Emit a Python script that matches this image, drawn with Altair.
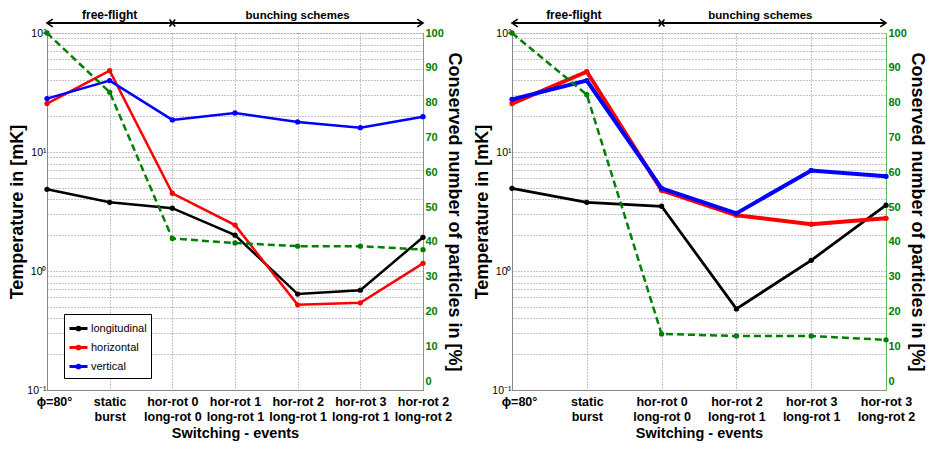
import altair as alt
import pandas as pd

FONT = "'Liberation Sans', Arial, sans-serif"

series_names = ["longitudinal", "horizontal", "vertical"]
series_colors = ["#000000", "#ff0000", "#0000ff"]
green = "#008000"

# ---- left panel data ----
events_left = ["ϕ=80°", "static|burst", "hor-rot 0|long-rot 0", "hor-rot 1|long-rot 1",
               "hor-rot 2|long-rot 1", "hor-rot 3|long-rot 1", "hor-rot 2|long-rot 2"]
long_left = [4.86, 3.78, 3.37, 2.0, 0.64, 0.69, 1.92]
hor_left = [25.5, 48.3, 4.5, 2.43, 0.52, 0.54, 1.16]
ver_left = [28.1, 39.8, 18.6, 21.3, 17.9, 16.0, 19.8]
cons_left = [100, 83, 41, 39.7, 38.8, 38.8, 37.8]

# ---- right panel data ----
events_right = ["ϕ=80°", "static|burst", "hor-rot 0|long-rot 0", "hor-rot 2|long-rot 1",
                "hor-rot 3|long-rot 1", "hor-rot 3|long-rot 2"]
long_right = [4.95, 3.78, 3.5, 0.48, 1.23, 3.57]
hor_right = [25.5, 47.3, 4.77, 2.94, 2.47, 2.77]
ver_right = [27.7, 39.8, 4.95, 3.05, 7.0, 6.25]
cons_right = [100, 82.3, 13.6, 13.0, 13.0, 11.9]

# annotation labels above the plots
ann_texts = ["free-flight", "bunching schemes"]
ann_sizes = [12, 11.5]
ann_anchor_left = [1, 4]
ann_shift_left = [0, 0]
ann_anchor_right = [1, 3]
ann_shift_right = [-13, 24]

log_ticks = [0.1, 0.2, 0.3, 0.4, 0.5, 0.6, 0.7, 0.8, 0.9,
             1, 2, 3, 4, 5, 6, 7, 8, 9,
             10, 20, 30, 40, 50, 60, 70, 80, 90, 100]
pct_ticks = [0, 10, 20, 30, 40, 50, 60, 70, 80, 90, 100]

log_label = ("datum.value == 100 ? '10²' : datum.value == 10 ? '10¹' : "
             "datum.value == 1 ? '10⁰' : datum.value == 0.1 ? '10⁻¹' : ''")


def panel(events, lon, hor, ver, cons, width, legend_x, legend_y, legend_font,
          legend_sym, line_ws, anchors, shifts):
    n = len(events)
    values = {"longitudinal": lon, "horizontal": hor, "vertical": ver}
    cons_df = pd.DataFrame({"event": events, "C": cons})
    ev_df = pd.DataFrame({"event": events})

    x_enc = alt.X(
        "event:N", sort=events,
        scale=alt.Scale(type="point", padding=0),
        axis=alt.Axis(
            title="Switching - events", labelExpr="split(datum.label, '|')",
            labelAngle=0, labelFont=FONT, labelFontSize=12.5, labelFontWeight="bold",
            labelLineHeight=15, labelPadding=5, labelColor="black",
            labelOffset={"condition": {"test": "datum.index == 0", "value": 7}, "value": 0},
            titleFont=FONT, titleFontSize=14.5, titleFontWeight="bold", titlePadding=4,
            grid=True, gridDash=[1, 2], gridColor="#888", ticks=False,
            domainColor="#888", labelOverlap=False,
        ),
    )
    y_temp = alt.Y("T:Q",
                   scale=alt.Scale(type="log", domain=[0.1, 100], nice=False),
                   axis=alt.Axis(
                       title="Temperature in [mK]", values=log_ticks, labelExpr=log_label,
                       labelFont=FONT, labelFontSize=10.5, labelColor="black",
                       labelPadding=1, labelOverlap=False,
                       titleFont=FONT, titleFontSize=18, titleFontWeight="bold",
                       titlePadding=0, titleColor="black",
                       grid=True, gridDash=[1, 2], gridColor="#888",
                       ticks=False, domainColor="#888",
                   ))
    color_enc = alt.Color("series:N", sort=series_names,
                          scale=alt.Scale(domain=series_names, range=series_colors),
                          legend=alt.Legend(
                              title=None, orient="none", legendX=legend_x, legendY=legend_y,
                              direction="vertical", fillColor="white", strokeColor="black",
                              padding=4, cornerRadius=0, symbolType=legend_sym[0],
                              symbolSize=legend_sym[1], symbolStrokeWidth=3,
                              labelFont=FONT, labelFontSize=legend_font,
                              labelColor="black", rowPadding=1, labelOffset=2,
                          ))

    temp_layers = []
    for s, w in zip(series_names, line_ws):
        df = pd.DataFrame({"event": events, "series": [s] * n, "T": values[s]})
        temp_layers.append(alt.Chart(df).mark_line(
            strokeWidth=w, point=alt.OverlayMarkDef(filled=True, size=28),
        ).encode(x=x_enc, y=y_temp, color=color_enc))
    temps = alt.layer(*temp_layers)

    cons_line = alt.Chart(cons_df).mark_line(
        color=green, strokeDash=[7, 4], strokeWidth=2.5,
        point=alt.OverlayMarkDef(filled=True, size=28, color=green),
    ).encode(
        x=x_enc,
        y=alt.Y("C:Q",
                scale=alt.Scale(domain=[-2.5, 100], nice=False, zero=False),
                axis=alt.Axis(
                    orient="right", title="Conserved number of particles in [%]",
                    values=pct_ticks, labelColor=green, labelFont=FONT,
                    labelFontSize=11, labelFontWeight="bold", labelPadding=2,
                    ticks=False, domainColor="#5cb85c",
                    titleFont=FONT, titleFontSize=18, titleFontWeight="bold",
                    titleColor="black", titlePadding=1, grid=False,
                )),
    )

    top_line = alt.Chart(ev_df).mark_line(color="black", strokeWidth=2).encode(
        x=x_enc, y=alt.value(-10))

    arrow_df = pd.DataFrame({"event": [events[0], events[2], events[-1]],
                             "kind": ["left", "mid", "right"]})
    arrows = alt.Chart(arrow_df).mark_point(
        filled=False, color="black", strokeWidth=1.6, size=40, opacity=1,
    ).encode(
        x=x_enc, y=alt.value(-10),
        shape=alt.Shape("kind:N", legend=None,
                        scale=alt.Scale(domain=["left", "mid", "right"],
                                        range=["M1.8,-1.2L0,0L1.8,1.2",
                                               "M-0.9,-1.1L0.9,1.1M-0.9,1.1L0.9,-1.1",
                                               "M-1.8,-1.2L0,0L-1.8,1.2"])),
    )

    texts = []
    for t, fs, a, s in zip(ann_texts, ann_sizes, anchors, shifts):
        tdf = pd.DataFrame({"event": [events[a]], "label": [t]})
        texts.append(alt.Chart(tdf).mark_text(
            font=FONT, fontSize=fs, fontWeight="bold", baseline="alphabetic",
            dx=s, color="black",
        ).encode(x=x_enc, y=alt.value(-14), text="label:N"))

    return alt.layer(temps, cons_line, top_line, arrows, *texts).resolve_scale(
        y="independent").properties(width=width, height=357)


left = panel(events_left, long_left, hor_left, ver_left, cons_left, 376,
             17, 281, 11, ("M-1,0L1,0M-0.15,0a0.15,0.15 0 1,0 0.3,0a0.15,0.15 0 1,0 -0.3,0", 324),
             [2.5, 2.5, 2.5], ann_anchor_left, ann_shift_left)
right = panel(events_right, long_right, hor_right, ver_right, cons_right, 374,
              4, 272, 14.5, ("M-1,0L1,0M-0.12,0a0.12,0.12 0 1,0 0.24,0a0.12,0.12 0 1,0 -0.24,0", 576),
              [2.8, 4, 4], ann_anchor_right, ann_shift_right)

chart = alt.hconcat(left, right, spacing=10).properties(
    padding={"left": 0, "top": 0, "right": 6, "bottom": 0}
).configure_view(stroke="#888", strokeWidth=1).configure(background="white")

chart.save("out.html", embed_options={"renderer": "svg", "actions": False})
